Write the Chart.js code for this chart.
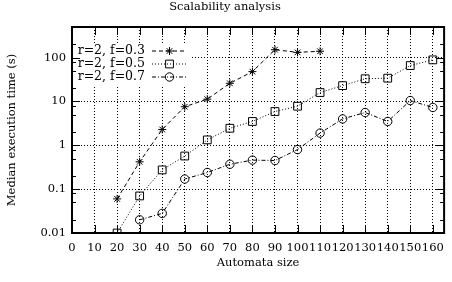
<!DOCTYPE html>
<html>
<head>
<meta charset="utf-8">
<script src="https://cdn.jsdelivr.net/npm/chart.js@4.4.0/dist/chart.umd.min.js"></script>
<style>
  html, body { margin: 0; padding: 0; background: #fff; }
  #wrap { width: 452px; height: 282px; }
</style>
</head>
<body>
<div id="wrap"><canvas id="chart" width="452" height="282"></canvas></div>
<script>
// Median execution time (s) per automata size
const sizes = [20, 30, 40, 50, 60, 70, 80, 90, 100, 110, 120, 130, 140, 150, 160];
const timesF03 = [0.06, 0.42, 2.3, 7.6, 11.3, 26, 48, 152, 132, 140, null, null, null, null, null];
const timesF05 = [0.01, 0.07, 0.275, 0.57, 1.33, 2.45, 3.5, 5.9, 7.8, 16, 23, 33, 34, 66, 89];
const timesF07 = [null, 0.02, 0.028, 0.17, 0.24, 0.37, 0.46, 0.45, 0.8, 1.9, 4, 5.6, 3.5, 10.5, 7.3];
const seriesLabels = ['r=2, f=0.3', 'r=2, f=0.5', 'r=2, f=0.7'];
const xTickValues = [0, 10, 20, 30, 40, 50, 60, 70, 80, 90, 100, 110, 120, 130, 140, 150, 160];
const yTickValues = [0.01, 0.1, 1, 10, 100];
const yMinorFactors = [2, 5, 8];

const FONT = { family: '"DejaVu Serif", serif', size: 11.5 };

const toPoints = (vals) => sizes
  .map((s, i) => ({ x: s, y: vals[i] }))
  .filter(p => p.y !== null);

const seriesStyle = [
  { dash: [4, 3], pointStyle: 'star', radius: 4 },
  { dash: [1, 2], pointStyle: 'rect', radius: 5.5 },
  { dash: [4, 2, 1, 2], pointStyle: 'circle', radius: 4.2 }
];

const datasets = [timesF03, timesF05, timesF07].map((vals, i) => ({
  label: seriesLabels[i],
  data: toPoints(vals),
  borderColor: '#000',
  backgroundColor: 'rgba(0,0,0,0)',
  borderWidth: 1,
  borderDash: seriesStyle[i].dash,
  pointStyle: seriesStyle[i].pointStyle,
  pointRadius: seriesStyle[i].radius,
  pointBorderWidth: 1,
  pointBorderColor: '#000',
  pointBackgroundColor: 'rgba(0,0,0,0)',
  tension: 0
}));

// gnuplot style key: opaque box, right aligned text, sample line with marker
const gnuplotKey = {
  id: 'gnuplotKey',
  afterDatasetsDraw(chart) {
    const { ctx, chartArea: a } = chart;
    ctx.save();
    ctx.fillStyle = '#fff';
    ctx.fillRect(a.left + 1, a.top + 16, 118, 43);
    ctx.font = `12.5px ${FONT.family}`;
    ctx.textAlign = 'right';
    ctx.textBaseline = 'middle';
    chart.data.datasets.forEach((ds, i) => {
      const cy = a.top + 23.5 + i * 13;
      ctx.fillStyle = '#000';
      ctx.fillText(ds.label, a.left + 73, cy);
      ctx.strokeStyle = '#000';
      ctx.lineWidth = 1;
      ctx.setLineDash(ds.borderDash);
      ctx.beginPath();
      ctx.moveTo(a.left + 80, cy + 0.5);
      ctx.lineTo(a.left + 114, cy + 0.5);
      ctx.stroke();
      ctx.setLineDash([]);
      ctx.fillStyle = 'rgba(0,0,0,0)';
      Chart.helpers.drawPoint(ctx, {
        pointStyle: ds.pointStyle, radius: ds.pointRadius, rotation: 0, borderWidth: 1
      }, a.left + 97.5, cy + 0.5);
    });
    ctx.restore();
  }
};

// inward major/minor ticks on all four sides plus the thick frame
const frameTicks = {
  id: 'frameTicks',
  afterDraw(chart) {
    const { ctx, chartArea: a, scales: { x, y } } = chart;
    const MAJOR = 8, MINOR = 4;
    ctx.save();
    ctx.strokeStyle = '#000';
    ctx.lineWidth = 1;
    ctx.beginPath();
    xTickValues.forEach(v => {
      const px = Math.round(x.getPixelForValue(v)) + 0.5;
      ctx.moveTo(px, a.bottom); ctx.lineTo(px, a.bottom - MAJOR);
      ctx.moveTo(px, a.top); ctx.lineTo(px, a.top + MAJOR);
    });
    yTickValues.forEach(v => {
      const py = Math.round(y.getPixelForValue(v)) + 0.5;
      ctx.moveTo(a.left, py); ctx.lineTo(a.left + MAJOR, py);
      ctx.moveTo(a.right, py); ctx.lineTo(a.right - MAJOR, py);
      yMinorFactors.forEach(f => {
        const mv = v * f;
        if (mv >= y.max) return;
        const my = Math.round(y.getPixelForValue(mv)) + 0.5;
        ctx.moveTo(a.left, my); ctx.lineTo(a.left + MINOR, my);
        ctx.moveTo(a.right, my); ctx.lineTo(a.right - MINOR, my);
      });
    });
    ctx.stroke();
    ctx.lineWidth = 2;
    ctx.strokeRect(a.left, a.top, a.right - a.left, a.bottom - a.top);
    ctx.restore();
  }
};

new Chart(document.getElementById('chart'), {
  type: 'line',
  data: { datasets },
  plugins: [gnuplotKey, frameTicks],
  options: {
    responsive: false,
    animation: false,
    layout: { padding: { top: 0, right: 2, bottom: 0, left: 0 } },
    plugins: {
      legend: { display: false },
      tooltip: { enabled: false },
      title: {
        display: true,
        text: 'Scalability analysis',
        color: '#000',
        font: { ...FONT, weight: 'normal' },
        padding: { top: 0, bottom: 13.2 }
      }
    },
    scales: {
      x: {
        type: 'linear',
        min: 0,
        max: 165,
        afterFit: (scale) => { scale.height = 49; },
        afterBuildTicks: (scale) => { scale.ticks = xTickValues.map(v => ({ value: v })); },
        ticks: { color: '#000', font: FONT, padding: 8, maxRotation: 0, autoSkip: false },
        grid: { color: '#000', lineWidth: 1, drawTicks: false },
        border: { display: false, dash: [1, 2] },
        title: {
          display: true,
          text: 'Automata size',
          color: '#000',
          font: FONT,
          padding: { top: 0, bottom: 12 }
        }
      },
      y: {
        type: 'logarithmic',
        min: 0.01,
        max: 500,
        afterFit: (scale) => { scale.width = 72; },
        afterBuildTicks: (scale) => { scale.ticks = yTickValues.map(v => ({ value: v })); },
        ticks: { color: '#000', font: FONT, padding: 6, callback: (v) => String(v) },
        grid: { color: '#000', lineWidth: 1, drawTicks: false },
        border: { display: false, dash: [1, 2] },
        title: {
          display: true,
          text: 'Median execution time (s)',
          color: '#000',
          font: FONT,
          padding: { top: 5.5, bottom: 0 }
        }
      }
    }
  }
});
</script>
</body>
</html>
